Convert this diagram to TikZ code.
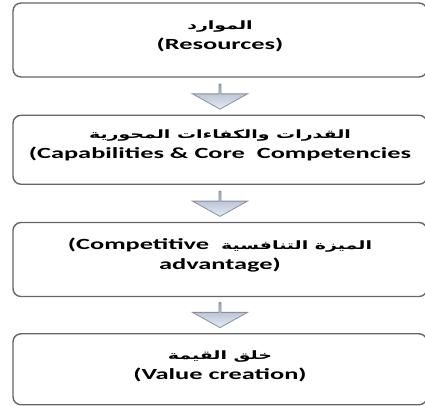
\documentclass[tikz,border=0pt]{standalone}
\usepackage{fontspec}
\setmainfont{Carlito}[FakeStretch=1.7]
\newfontfamily\arabicfont[Script=Arabic,FakeStretch=1.65]{DejaVu Sans}
\TeXXeTstate=1
\usetikzlibrary{positioning,shapes.arrows}
\definecolor{boxedge}{HTML}{666666}
\definecolor{arrowedge}{HTML}{8A9099}
\definecolor{arrowtop}{HTML}{A3AEC4}
\definecolor{arrowbot}{HTML}{E4EBF7}

\newcommand{\ar}[1]{{\arabicfont\fontsize{11.5}{14}\selectfont\bfseries\beginR #1\endR}}

\begin{document}
\begin{tikzpicture}[
    x=1pt, y=1pt,
    every node/.style={font=\bfseries},
    stage/.style={
        draw=boxedge, fill=white, rounded corners=8pt,
        line width=1.4pt, minimum width=414pt, minimum height=#1,
        inner sep=0pt
    },
    stagetext/.style={
        font=\fontsize{15.5}{20}\selectfont\bfseries, align=center, inner sep=0pt
    },
    downarr/.style={
        single arrow, shape border rotate=270,
        draw=arrowedge, line width=0.8pt,
        top color=arrowtop, bottom color=arrowbot,
        minimum width=55pt, minimum height=25pt,
        single arrow head extend=10pt, single arrow tip angle=122,
        inner sep=0pt
    },
]
\useasboundingbox (0,0) rectangle (425,-405);

% === Stages, top to bottom ===
\node[stage=74pt] (res) at (220,-40) {};
\node[downarr, below=6pt of res] (a1) {};
\node[stage=69pt, below=5pt of a1] (cap) {};
\node[downarr, below=6pt of cap] (a2) {};
\node[stage=74pt, below=5pt of a2] (adv) {};
\node[downarr, below=5pt of adv] (a3) {};
\node[stage=71pt, below=5pt of a3] (val) {};

% Labels (Arabic line over English line)
\node[stagetext] (resT) at ([yshift=4pt]res.center)
    {\ar{الموارد}\\(Resources)};
\node[stagetext] (capT) at ([yshift=4pt]cap.center)
    {\ar{القدرات والكفاءات المحورية}\\(Capabilities \& Core\ \ Competencies};
\node[stagetext] (advT) at ([yshift=4pt]adv.center)
    {(Competitive\ \ \ar{الميزة التنافسية}\\advantage)};
\node[stagetext] (valT) at ([yshift=3pt]val.center)
    {\ar{خلق القيمة}\\(Value creation)};

\end{tikzpicture}
\end{document}
